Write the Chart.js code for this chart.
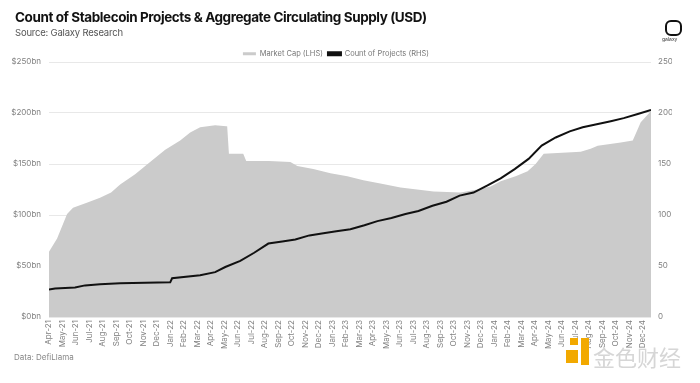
<!DOCTYPE html>
<html>
<head>
<meta charset="utf-8">
<script src="https://cdn.jsdelivr.net/npm/chart.js@4.4.1/dist/chart.umd.min.js"></script>
<style>
  html, body { margin: 0; padding: 0; background: #ffffff; }
  #wrap { position: relative; width: 700px; height: 383px; overflow: hidden; font-family: Inter, "Liberation Sans", sans-serif; }
  #c { position: absolute; left: 0; top: 0; }
  .title { position: absolute; left: 15px; top: 9px; font-size: 13.5px; font-weight: 700; color: #111; letter-spacing: -0.42px; white-space: nowrap; }
  .sub { position: absolute; left: 15px; top: 27px; font-size: 9.5px; color: #555; letter-spacing: -0.2px; white-space: nowrap; }
  .src { position: absolute; left: 14px; top: 352px; font-size: 8px; color: #888; white-space: nowrap; }
  .logo { position: absolute; left: 665px; top: 20px; width: 13px; height: 12px; border: 2px solid #111; border-radius: 6px; }
  .logotxt { position: absolute; left: 662px; top: 36px; font-size: 5px; color: #333; }
  .wm { position: absolute; left: 593px; top: 340px; font-size: 22px; color: #d6d6d6; font-family: "Noto Sans CJK SC", sans-serif; white-space: nowrap; }
  .wmA { position: absolute; left: 566px; top: 350px; width: 12px; height: 13px; background: #f2a900; }
  .wmB { position: absolute; left: 581px; top: 338px; width: 8px; height: 27px; background: #f2a900; }
  .wmC { position: absolute; left: 570px; top: 338px; width: 8px; height: 7px; background: #f2a900; }
</style>
</head>
<body>
<div id="wrap">
  <canvas id="c" width="700" height="383"></canvas>
  <div class="title">Count of Stablecoin Projects &amp; Aggregate Circulating Supply (USD)</div>
  <div class="sub">Source: Galaxy Research</div>
  <div class="src">Data: DefiLlama</div>
  <div class="logo"></div>
  <div class="logotxt">galaxy</div>
  <div class="wmC"></div>
  <div class="wmA"></div>
  <div class="wmB"></div>
  <div class="wm">金色财经</div>
</div>
<script>
// Month tick labels (index 0 = Apr-21)
const monthLabels = ["Apr-21","May-21","Jun-21","Jul-21","Aug-21","Sep-21","Oct-21","Nov-21","Dec-21",
  "Jan-22","Feb-22","Mar-22","Apr-22","May-22","Jun-22","Jul-22","Aug-22","Sep-22","Oct-22","Nov-22","Dec-22",
  "Jan-23","Feb-23","Mar-23","Apr-23","May-23","Jun-23","Jul-23","Aug-23","Sep-23","Oct-23","Nov-23","Dec-23",
  "Jan-24","Feb-24","Mar-24","Apr-24","May-24","Jun-24","Jul-24","Aug-24","Sep-24","Oct-24","Nov-24","Dec-24"];

// Market cap (USD bn): time in months since Apr-21, value
const mcapTime = [0, 0.6, 1.34, 1.78, 2.8, 3.78, 4.6, 5.27, 6.38, 7.49, 8.61, 9.72, 10.46, 11.2, 12.31, 13.13, 13.2,
  13.33, 14.39, 14.61, 16.3, 17.88, 18.4, 19.58, 20.85, 22.1, 23.29, 24.55, 26.04, 28.49, 30.49, 31.75, 32.72,
  33.46, 34.57, 35.46, 36.05, 36.65, 39.39, 40.13, 40.65, 42.36, 43.25, 43.84, 44.6];
const mcapValues = [64, 77, 101, 107, 112, 117, 122, 130, 140, 152, 164, 173, 181, 186, 188, 187, 187,
  160, 160, 153, 153, 152, 148, 145, 141, 138, 134, 131, 127, 123, 122, 125, 128,
  133, 138, 143, 150, 160, 162, 165, 168, 171, 173, 191, 202];

// Count of stablecoin projects: time in months since Apr-21, count
const projTime = [0, 0.45, 1.93, 2.67, 3.78, 5.27, 8.98, 9.12, 11.2, 12.31, 13.06, 14.17, 15.2, 16.25, 17.28,
  18.25, 19.29, 20.33, 21.29, 22.33, 23.37, 24.33, 25.37, 26.41, 27.37, 28.41, 29.45, 30.42, 31.45, 32.49,
  33.46, 34.5, 35.53, 36.5, 37.54, 38.58, 39.54, 40.58, 41.62, 42.58, 43.62, 44.6];
const projValues = [27, 28, 29, 31, 32, 33, 34, 38, 41, 44, 49, 55, 63, 72, 74,
  76, 80, 82, 84, 86, 90, 94, 97, 101, 104, 109, 113, 119, 122, 129,
  136, 145, 155, 168, 176, 182, 186, 189, 192, 195, 199, 203];

const leftTicks = ["$0bn","$50bn","$100bn","$150bn","$200bn","$250bn"];
const rightTicks = ["0","50","100","150","200","250"];

const mcapData = mcapTime.map((t, i) => ({ x: t, y: mcapValues[i] }));
const projData = projTime.map((t, i) => ({ x: t, y: projValues[i] }));

const tickFont = { family: 'Inter, "Liberation Sans", sans-serif', size: 8 };
const tickColor = '#808080';

const chart = new Chart(document.getElementById('c'), {
  type: 'line',
  data: {
    datasets: [
      {
        label: 'Market Cap (LHS)',
        data: mcapData,
        yAxisID: 'y',
        fill: 'origin',
        backgroundColor: '#cbcbcb',
        borderColor: '#cbcbcb',
        borderWidth: 0,
        pointRadius: 0,
        tension: 0,
        order: 2
      },
      {
        label: 'Count of Projects (RHS)',
        data: projData,
        yAxisID: 'y1',
        fill: false,
        backgroundColor: '#111111',
        borderColor: '#111111',
        borderWidth: 2,
        pointRadius: 0,
        tension: 0,
        order: 1
      }
    ]
  },
  options: {
    responsive: false,
    animation: false,
    layout: { padding: { left: 0, right: 28, top: 45, bottom: 0 } },
    plugins: {
      legend: {
        display: true,
        position: 'top',
        align: 'center',
        labels: {
          boxWidth: 13,
          boxHeight: 3,
          padding: 5,
          color: '#777',
          font: { family: 'Inter, "Liberation Sans", sans-serif', size: 7.5 },
          sort: (a, b) => a.datasetIndex - b.datasetIndex
        }
      },
      tooltip: { enabled: false },
      title: { display: false }
    },
    scales: {
      x: {
        type: 'linear',
        min: 0,
        max: 44.6,
        grid: { display: false, drawTicks: false },
        border: { display: false },
        afterFit: (s) => { s.height = 66; },
        afterBuildTicks: (s) => { s.ticks = monthLabels.map((_, i) => ({ value: i })); },
        ticks: {
          autoSkip: false,
          maxRotation: 90,
          minRotation: 90,
          padding: 3,
          color: tickColor,
          font: tickFont,
          callback: (v) => monthLabels[v] || ''
        }
      },
      y: {
        position: 'left',
        min: 0,
        max: 250,
        afterFit: (s) => { s.width = 49; },
        grid: { color: '#e8e8e8', lineWidth: 1, drawTicks: false },
        border: { display: false },
        ticks: {
          stepSize: 50,
          padding: 8,
          color: tickColor,
          font: tickFont,
          callback: (v) => leftTicks[v / 50]
        }
      },
      y1: {
        position: 'right',
        min: 0,
        max: 250,
        afterFit: (s) => { s.width = 21; },
        grid: { display: false, drawTicks: false },
        border: { display: false },
        ticks: {
          stepSize: 50,
          padding: 7,
          color: tickColor,
          font: tickFont,
          callback: (v) => rightTicks[v / 50]
        }
      }
    }
  }
});

// Constrain the legend box height so the plot area starts just below it
if (chart.legend) {
  const origFit = chart.legend.fit.bind(chart.legend);
  chart.legend.fit = function () { origFit(); this.height = 17; };
  chart.update();
}
</script>
</body>
</html>
